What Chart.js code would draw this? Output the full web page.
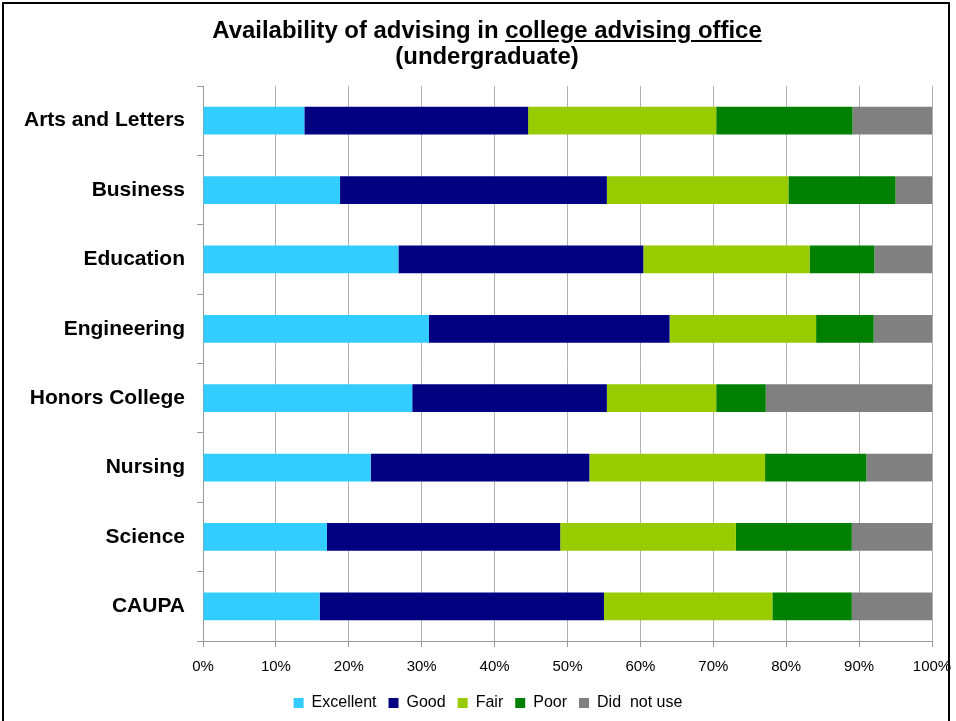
<!DOCTYPE html>
<html>
<head>
<meta charset="utf-8">
<script src="https://cdn.jsdelivr.net/npm/chart.js@4.4.1/dist/chart.umd.min.js"></script>
<style>
  html, body { margin: 0; padding: 0; background: #fff; }
  body { width: 956px; height: 721px; position: relative; overflow: hidden; font-family: "Liberation Sans", Arial, sans-serif; }
  #frame { position: absolute; left: 2px; top: 2px; width: 948px; height: 760px; border: 2px solid #000; box-sizing: border-box; pointer-events: none; z-index: 3; }
  #title { position: absolute; left: 0; top: 17px; width: 974px; text-align: center; font-weight: bold; font-size: 23px; line-height: 26px; color: #000; z-index: 2; transform: scaleX(1.04); transform-origin: 487px 0; }
  #wrap { position: absolute; left: 0; top: 0; width: 956px; height: 721px; }
</style>
</head>
<body>
<div id="wrap"><canvas id="c" width="956" height="721"></canvas></div>
<div id="title">Availability of advising in <u>college advising office</u><br>(undergraduate)</div>
<div id="frame"></div>
<script>
const categories = ["Arts and Letters", "Business", "Education", "Engineering", "Honors College", "Nursing", "Science", "CAUPA"];
const seriesNames = ["Excellent", "Good", "Fair", "Poor", "Did  not use"];
const excellent = [13.9, 18.8, 26.8, 31.0, 28.7, 23.0, 17.0, 16.0];
const good      = [30.7, 36.6, 33.6, 33.0, 26.7, 30.0, 32.0, 39.0];
const fair      = [25.8, 24.9, 22.8, 20.1, 15.0, 24.1, 24.1, 23.1];
const poor      = [18.7, 14.7,  8.9,  7.9,  6.8, 13.9, 15.9, 10.9];
const didNotUse = [10.9,  5.0,  7.9,  8.0, 22.8,  9.0, 11.0, 11.0];
const xTicks = [0, 10, 20, 30, 40, 50, 60, 70, 80, 90, 100];

const colors = ["#33CCFF", "#000080", "#99CC00", "#008000", "#808080"];
const seriesData = [excellent, good, fair, poor, didNotUse];
const FONT = "'Liberation Sans', Arial, sans-serif";

const legendShift = {
  id: "legendShift",
  afterLayout(chart) {
    if (chart.legend) { chart.legend.left = 44; }
  }
};

new Chart(document.getElementById("c"), {
  type: "bar",
  data: {
    labels: categories,
    datasets: seriesNames.map((n, i) => ({
      label: n,
      data: seriesData[i],
      backgroundColor: colors[i],
      borderWidth: 0,
      barPercentage: 0.4,
      categoryPercentage: 1.0
    }))
  },
  plugins: [legendShift],
  options: {
    indexAxis: "y",
    responsive: false,
    animation: false,
    layout: { padding: { left: 0, right: 24, top: 86, bottom: 0 } },
    plugins: {
      title: { display: false },
      tooltip: { enabled: false },
      legend: {
        position: "bottom",
        labels: {
          font: { family: FONT, size: 16 },
          color: "#000",
          boxWidth: 10,
          boxHeight: 10,
          padding: 12
        }
      }
    },
    scales: {
      x: {
        stacked: true,
        min: 0,
        max: 100,
        afterBuildTicks: (scale) => { scale.ticks = xTicks.map(v => ({ value: v })); },
        afterFit: (scale) => { scale.paddingRight = 0; scale.paddingLeft = 0; scale.height -= 4; },
        ticks: {
          callback: (v) => v + "%",
          font: { family: FONT, size: 15 },
          color: "#000",
          padding: 11,
          maxRotation: 0
        },
        grid: { color: "#b0b0b0", lineWidth: 1, tickLength: 6, tickColor: "#999" },
        border: { color: "#999", width: 1 }
      },
      y: {
        stacked: true,
        afterFit: (scale) => { scale.width = 203; },
        ticks: {
          font: { family: FONT, size: 21, weight: "bold" },
          color: "#000",
          padding: 12
        },
        grid: { display: true, drawOnChartArea: false, offset: true, tickLength: 6, color: "#999" },
        border: { color: "#999", width: 1 }
      }
    }
  }
});
</script>
</body>
</html>
